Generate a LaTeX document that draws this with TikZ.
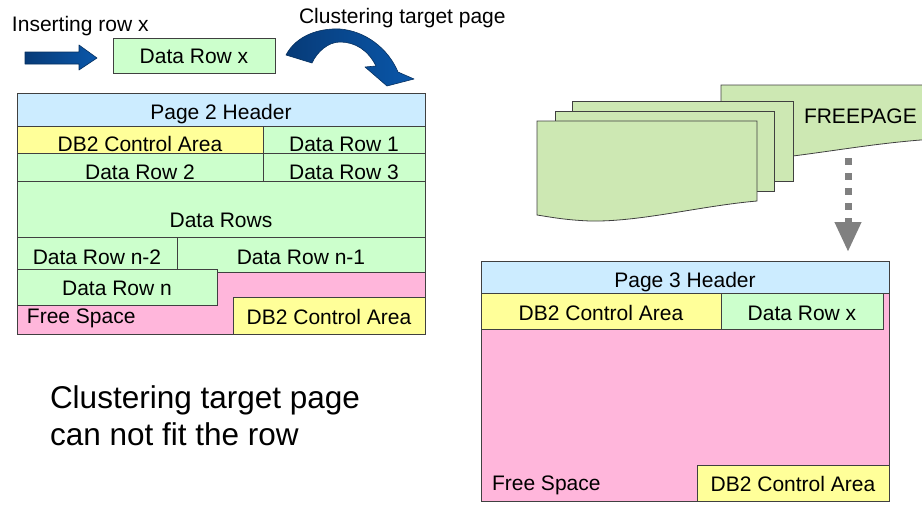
\documentclass[tikz,border=0pt]{standalone}
\usepackage{fontspec}
\setmainfont{Liberation Sans}
\usetikzlibrary{arrows.meta}
\definecolor{hdr}{HTML}{CCECFF}
\definecolor{grn}{HTML}{CCFFCC}
\definecolor{ylw}{HTML}{FFFF99}
\definecolor{pnk}{HTML}{FFB6DB}
\definecolor{fpg}{HTML}{CDE8B3}
\definecolor{edge}{HTML}{404040}
\definecolor{arrblue}{HTML}{0B4A96}
\definecolor{arrlight}{HTML}{0A57AA}
\definecolor{arrdeep}{HTML}{073B78}
\definecolor{arrdark}{HTML}{06305F}
\definecolor{dotgray}{HTML}{808080}
\newcommand\pgbox[7]{\node[#6, minimum width=#4pt-#2pt, minimum height=#5pt-#3pt] (#1) at ({(#2+#4)/2},{(#3+#5)/2}) {#7};}
\begin{document}
\begin{tikzpicture}[x=1pt,y=-1pt,
  cell/.style={draw=edge, line width=0.8pt, inner sep=0pt, outer sep=0pt,
    font=\fontsize{21}{25}\selectfont, text height=18pt, text depth=0pt},
  hdrcell/.style={cell, fill=hdr},
  grncell/.style={cell, fill=grn},
  ylwcell/.style={cell, fill=ylw},
  pnkcell/.style={cell, fill=pnk},
  lbl/.style={inner sep=0pt, outer sep=0pt, font=\fontsize{21}{25}\selectfont},
  biglbl/.style={inner sep=0pt, outer sep=0pt, font=\fontsize{31.5}{37}\selectfont},
  pagesheet/.style={fill=fpg, draw=edge, line width=0.8pt},
  blockarrow/.style={left color=arrdeep, right color=arrlight, draw=arrdark, line width=0.6pt, line join=round}
]
\useasboundingbox (0,0) rectangle (922,504);

% ---------- top-left: inserting row x ----------
\node[lbl, anchor=base west] (ins) at (12,31) {Inserting row x};
\path[blockarrow] (25,52) -- (79,52) -- (79,45) -- (97,58) -- (79,70) -- (79,64) -- (25,64) -- cycle;
\pgbox{rowx}{113}{38}{275}{73}{grncell, text height=16pt}{Data Row x}
\node[lbl, anchor=base west] (clt) at (299,23) {Clustering target page};
\path[blockarrow] (286,55) .. controls (296,36) and (318,28) .. (340,29)
  .. controls (365,31) and (388,48) .. (398,72)
  -- (414,79) -- (387,86) -- (365,67) -- (376,66)
  .. controls (368,50) and (355,42) .. (340,42)
  .. controls (328,42) and (317,52) .. (312,63) -- cycle;

% ---------- page 2 ----------
\pgbox{h2}{17}{93}{425}{126}{hdrcell, text height=19pt}{Page 2 Header}
\pgbox{ca2}{17}{126}{263}{153}{ylwcell, text height=24pt}{DB2 Control Area}
\pgbox{r1}{263}{126}{425}{153}{grncell, text height=24pt}{Data Row 1}
\pgbox{r2}{17}{153}{263}{181}{grncell, text height=24pt}{Data Row 2}
\pgbox{r3}{263}{153}{425}{181}{grncell, text height=24pt}{Data Row 3}
\pgbox{rs}{17}{181}{425}{237}{grncell, text height=37pt}{Data Rows}
\pgbox{fs2}{17}{269}{425}{334}{pnkcell}{}
\pgbox{rn2}{17}{237}{177}{269}{grncell, text height=22pt}{Data Row n-2}
\pgbox{rn1}{177}{237}{425}{272}{grncell, text height=20pt}{Data Row n-1}
\pgbox{rn}{17}{269}{217}{305}{grncell, text height=16pt}{Data Row n}
\pgbox{cb2}{233}{297}{425}{334}{ylwcell, text height=17pt}{DB2 Control Area}
\node[lbl, anchor=base west] (fst2) at (27,323) {Free Space};

\node[biglbl, anchor=base west] (msg1) at (50,408) {Clustering target page};
\node[biglbl, anchor=base west] (msg2) at (50,445) {can not fit the row};

% ---------- FREEPAGE stack ----------
\begin{scope}
\clip (0,0) rectangle (922,504);
\filldraw[pagesheet] (721,85) -- (935,85) -- (935,139)
  .. controls (885,142) and (840,150) .. (793,156) -- (721,160) -- cycle;
\end{scope}
\node[lbl, anchor=base west] (fp) at (804,123) {FREEPAGE};
\filldraw[pagesheet] (572,101) rectangle (793,181);
\filldraw[pagesheet] (555,111) rectangle (774,191);
\filldraw[pagesheet] (537,121) -- (757,121) -- (757,201)
  .. controls (700,206) and (640,222) .. (590,221)
  .. controls (565,220) and (550,217) .. (537,215) -- cycle;

\coordinate (fpout) at (848,158);
\coordinate (p3in) at (848,252);
\draw[dotgray, line width=7pt, dash pattern=on 7pt off 8pt,
  -{Triangle[width=25pt,length=30pt]}] (fpout) -- (p3in);

% ---------- page 3 ----------
\pgbox{h3}{481}{261}{889}{293}{hdrcell, text height=20pt}{Page 3 Header}
\pgbox{fs3}{481}{293}{889}{501}{pnkcell}{}
\pgbox{ca3}{481}{293}{721}{329}{ylwcell}{DB2 Control Area}
\pgbox{rx3}{721}{293}{883}{329}{grncell}{Data Row x}
\pgbox{cb3}{697}{465}{889}{501}{ylwcell, text height=17pt}{DB2 Control Area}
\node[lbl, anchor=base west] (fst3) at (492,490) {Free Space};
\end{tikzpicture}
\end{document}
